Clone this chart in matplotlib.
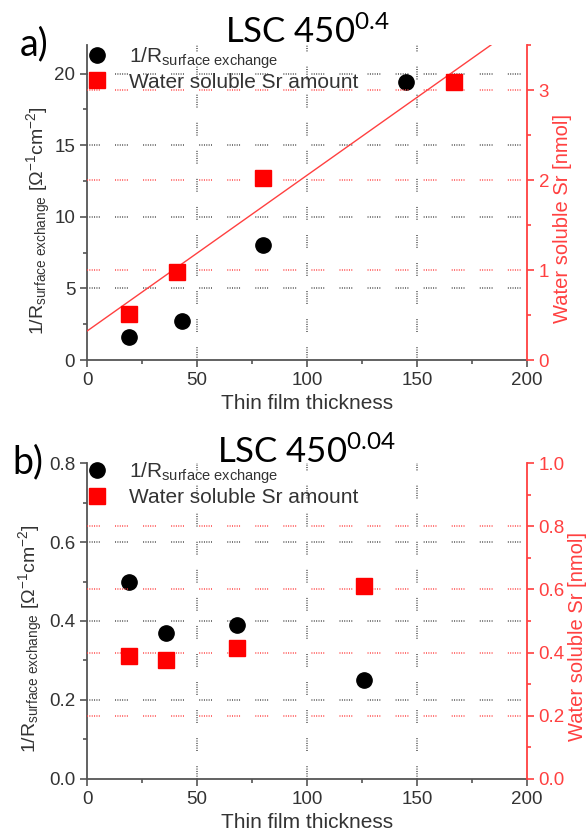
import numpy as np
import matplotlib.pyplot as plt
from matplotlib.lines import Line2D
from matplotlib.ticker import MultipleLocator

plt.rcParams['font.family'] = ['Liberation Sans', 'DejaVu Sans']
plt.rcParams['mathtext.fontset'] = 'custom'
plt.rcParams['mathtext.rm'] = 'Liberation Sans'
plt.rcParams['mathtext.it'] = 'Liberation Sans:italic'
plt.rcParams['mathtext.default'] = 'regular'
plt.rcParams['lines.scale_dashes'] = False

# panel a) LSC 450^0.4
thick_a_r = [19, 43, 80, 145]
rate_a = [1.6, 2.7, 8.0, 19.4]
thick_a_sr = [19, 41, 80, 167]
sr_a = [0.51, 0.98, 2.02, 3.09]

# panel b) LSC 450^0.04
thick_b_r = [19, 36, 68, 126]
rate_b = [0.50, 0.37, 0.39, 0.25]
thick_b_sr = [19, 36, 68, 126]
sr_b = [0.39, 0.375, 0.415, 0.61]

labels = [r'1/R$_{surface\ exchange}$', 'Water soluble Sr amount']

AX_COL = '#555555'
TXT_COL = '#333333'
RED = '#ff0000'
RED_AX = '#ff4040'
GRID_DASH = (0, [0.7, 1.0] * 5 + [0.7, 11])


def hide_edge_grid(axis, lo, hi):
    for tick, loc in zip(axis.get_major_ticks(), axis.get_majorticklocs()):
        if np.isclose(loc, lo) or np.isclose(loc, hi):
            tick.gridline.set_visible(False)


def draw_panel(ax, xr, yr, xs, ys, ylim, ymaj, y2lim, y2maj, title,
               fit=False, leg_y=1.0, l_lab_x=-0.077, r_lab_x=1.059, title_y=1.0):
    ax2 = ax.twinx()
    ax.set_xlim(0, 200)
    ax.set_ylim(*ylim)
    ax2.set_ylim(*y2lim)
    ax.xaxis.set_major_locator(MultipleLocator(50))
    ax.xaxis.set_minor_locator(MultipleLocator(25))
    ax.yaxis.set_major_locator(MultipleLocator(ymaj))
    ax.yaxis.set_minor_locator(MultipleLocator(ymaj / 2))
    ax2.yaxis.set_major_locator(MultipleLocator(y2maj))
    ax2.yaxis.set_minor_locator(MultipleLocator(y2maj / 2))

    ax.plot(xr, yr, 'o', color='black', ms=11, zorder=3)
    ax2.plot(xs, ys, 's', color=RED, ms=11, zorder=3)
    if fit:
        coef = np.polyfit(xs, ys, 1)
        xx = np.array([0, 200])
        ax2.plot(xx, np.polyval(coef, xx), color=RED_AX, lw=1)

    ax.grid(axis='both', which='major', color='#4a4a4a', linestyle=GRID_DASH, lw=1.1)
    ax2.grid(axis='y', which='major', color=RED_AX, linestyle=GRID_DASH, lw=1.1)
    hide_edge_grid(ax.xaxis, 0, 200)
    hide_edge_grid(ax.yaxis, *ylim)
    hide_edge_grid(ax2.yaxis, *y2lim)

    for s in ['top', 'right']:
        ax.spines[s].set_visible(False)
    for s in ['top', 'left', 'bottom']:
        ax2.spines[s].set_visible(False)
    for s in ['left', 'bottom']:
        ax.spines[s].set_color(AX_COL)
        ax.spines[s].set_linewidth(1.3)
    ax2.spines['right'].set_color(RED_AX)
    ax2.spines['right'].set_linewidth(1.3)

    ax.tick_params(which='both', direction='out', color=AX_COL, width=1.2,
                   labelcolor=TXT_COL, labelsize=13.5)
    ax.tick_params(which='major', length=5)
    ax.tick_params(which='minor', length=3)
    ax2.tick_params(which='both', direction='out', color=RED_AX, width=1.2,
                    labelcolor=RED_AX, labelsize=13.5)
    ax2.tick_params(which='major', length=5)
    ax2.tick_params(which='minor', length=3)

    ax.set_xlabel('Thin film thickness', fontsize=15, color=TXT_COL, labelpad=4)
    ax.set_ylabel(r'1/R$_{surface\ exchange}$ [$\Omega^{-1}$cm$^{-2}$]',
                  fontsize=14, color=TXT_COL)
    ax.yaxis.set_label_coords(l_lab_x, 0.444)
    ax2.set_ylabel('Water soluble Sr [nmol]', fontsize=14.5, color=RED_AX)
    ax2.yaxis.set_label_coords(r_lab_x, 0.45)

    handles = [Line2D([], [], marker='o', color='black', ls='none', ms=11),
               Line2D([], [], marker='s', color=RED, ls='none', ms=11)]
    leg = ax2.legend(handles, labels, loc='upper left', bbox_to_anchor=(0.0, leg_y),
                     frameon=False, fontsize=15, handlelength=1.0, handletextpad=1.0,
                     labelspacing=0.1, borderpad=0, borderaxespad=0)
    for t in leg.get_texts():
        t.set_color(TXT_COL)

    ax.text(0.5, title_y, title, transform=ax.transAxes, ha='center', va='baseline',
            fontsize=25, family='Lato')
    return ax2


fig = plt.figure(figsize=(5.88, 8.34), dpi=100)
ax_a = fig.add_axes([0.148, 0.5683, 0.748, 0.3777])
ax_b = fig.add_axes([0.148, 0.066, 0.748, 0.3788])

draw_panel(ax_a, thick_a_r, rate_a, thick_a_sr, sr_a, (0, 22), 5, (0, 3.5), 1,
           r'LSC 450$^{0.4}$', fit=True, leg_y=1.0, l_lab_x=-0.077, r_lab_x=1.059,
           title_y=1.008)
draw_panel(ax_b, thick_b_r, rate_b, thick_b_sr, sr_b, (0, 0.8), 0.2, (0, 1.0), 0.2,
           r'LSC 450$^{0.04}$', leg_y=1.008, l_lab_x=-0.095, r_lab_x=1.093,
           title_y=1.0)
ax_a.yaxis.set_major_formatter(plt.FormatStrFormatter('%d'))
ax_b.yaxis.set_major_formatter(plt.FormatStrFormatter('%.1f'))

fig.text(20 / 588, 1 - 55 / 834, 'a)', fontsize=27, family='Lato', va='baseline')
fig.text(12 / 588, 1 - 473 / 834, 'b)', fontsize=27, family='Lato', va='baseline')

fig.savefig('out.png', dpi=100)
